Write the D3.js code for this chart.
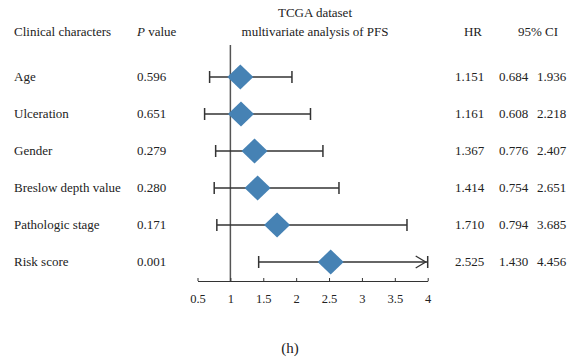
<!DOCTYPE html>
<html><head><meta charset="utf-8">
<script src="https://cdn.jsdelivr.net/npm/d3@7"></script>
<style>body{margin:0;background:#fff;} svg{display:block;} text{font-family:"Liberation Serif","DejaVu Serif",serif;fill:#222;}</style>
</head><body>
<svg id="c" width="580" height="361"></svg>
<script>
const categories = ["Age","Ulceration","Gender","Breslow depth value","Pathologic stage","Risk score"];
const pValues = ["0.596","0.651","0.279","0.280","0.171","0.001"];
const hr = [1.151,1.161,1.367,1.414,1.710,2.525];
const ciLow = [0.684,0.608,0.776,0.754,0.794,1.430];
const ciHigh = [1.936,2.218,2.407,2.651,3.685,4.456];
const tickValues = [0.5,1,1.5,2,2.5,3,3.5,4];

const svg = d3.select("#c");
const x = d3.scaleLinear().domain([0.5,4]).range([197.5,427.7]);
const y = d3.scalePoint().domain(categories).range([77,262]);
const axisY = 281;
const fs = 13;

// headers
const hdr = svg.append("g").style("font-size", fs+"px");
hdr.append("text").attr("x",14).attr("y",36).text("Clinical characters");
const pv = hdr.append("text").attr("x",137).attr("y",36);
pv.append("tspan").style("font-style","italic").text("P");
pv.append("tspan").text(" value");
hdr.append("text").attr("x",315).attr("y",17).attr("text-anchor","middle").text("TCGA dataset");
hdr.append("text").attr("x",315).attr("y",36).attr("text-anchor","middle").text("multivariate analysis of PFS");
hdr.append("text").attr("x",473).attr("y",36).attr("text-anchor","middle").text("HR");
hdr.append("text").attr("x",538).attr("y",36).attr("text-anchor","middle").text("95% CI");

// reference line
svg.append("line").attr("x1",x(1)).attr("x2",x(1)).attr("y1",45).attr("y2",axisY)
  .attr("stroke","#555").attr("stroke-width",1.5);

// axis
const ax = svg.append("g").attr("transform",`translate(0,${axisY})`)
  .call(d3.axisBottom(x).tickValues(tickValues).tickSize(-3).tickPadding(13).tickFormat(d3.format("")).tickSizeOuter(0));
ax.select(".domain").attr("stroke","#333").attr("stroke-width",1.2);
ax.selectAll(".tick line").attr("stroke","#333");
ax.selectAll(".tick text").style("font-size","12.5px").attr("fill","#222").style("font-family","Liberation Serif, serif");

// rows
const rows = svg.append("g").selectAll("g").data(categories).join("g")
  .attr("transform", d => `translate(0,${y(d)})`);
rows.append("text").attr("x",14).attr("y",4).style("font-size",fs+"px").text(d=>d);
rows.append("text").attr("x",137).attr("y",4).style("font-size",fs+"px").text((d,i)=>pValues[i]);
rows.append("text").attr("x",455).attr("y",4).style("font-size",fs+"px").text((d,i)=>hr[i].toFixed(3));
rows.append("text").attr("x",499).attr("y",4).style("font-size",fs+"px").text((d,i)=>ciLow[i].toFixed(3));
rows.append("text").attr("x",537).attr("y",4).style("font-size",fs+"px").text((d,i)=>ciHigh[i].toFixed(3));

const xmax = x.domain()[1];
rows.each(function(d,i){
  const g = d3.select(this);
  const lo = x(ciLow[i]), hiV = Math.min(ciHigh[i], xmax), hi = x(hiV);
  const col = "#333";
  g.append("line").attr("x1",lo).attr("x2",hi).attr("y1",0).attr("y2",0).attr("stroke",col).attr("stroke-width",1.3);
  g.append("line").attr("x1",lo).attr("x2",lo).attr("y1",-6).attr("y2",6).attr("stroke",col).attr("stroke-width",1.5);
  g.append("line").attr("x1",hi).attr("x2",hi).attr("y1",-6).attr("y2",6).attr("stroke",col).attr("stroke-width",1.5);
  if (ciHigh[i] > xmax) {
    g.append("path").attr("d",`M${hi-12},-6 L${hi-2},0 L${hi-12},6`).attr("fill","none").attr("stroke",col).attr("stroke-width",1.3);
  }
  const cx = x(hr[i]);
  g.append("path").attr("d",`M${cx-13},0 L${cx},-12.5 L${cx+13},0 L${cx},12.5 Z`).attr("fill","#4682b4");
});

svg.append("text").attr("x",290).attr("y",353).attr("text-anchor","middle").style("font-size","15px").text("(h)");
</script>
</body></html>
